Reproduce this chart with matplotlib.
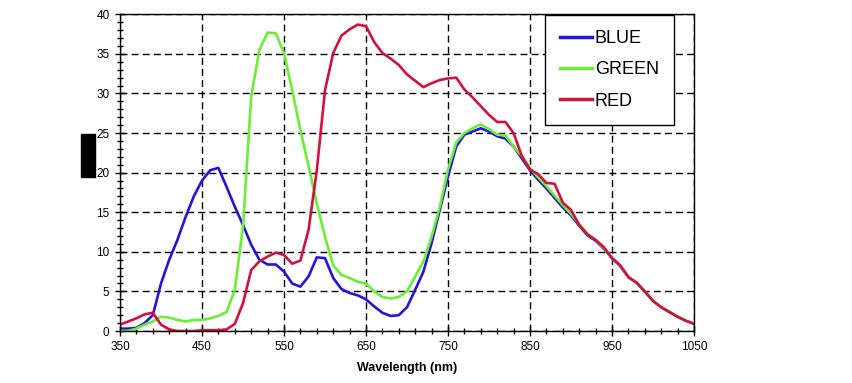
import matplotlib
matplotlib.use('Agg')
import matplotlib.pyplot as plt
from matplotlib.patches import Rectangle

plt.rcParams['font.family'] = ['Liberation Sans', 'DejaVu Sans']

wl = [350, 360, 370, 380, 390, 400, 410, 420, 430, 440,
      450, 460, 470, 480, 490, 500, 510, 520, 530, 540,
      550, 560, 570, 580, 590, 600, 610, 620, 630, 640,
      650, 660, 670, 680, 690, 700, 710, 720, 730, 740,
      750, 760, 770, 780, 790, 800, 810, 820, 830, 840,
      850, 860, 870, 880, 890, 900, 910, 920, 930, 940,
      950, 960, 970, 980, 990, 1000, 1010, 1020, 1030, 1040, 1050]

blue = [0.3, 0.3, 0.4, 1.0, 2.0, 6.0, 9.0, 11.5, 14.4, 17.0,
        19.0, 20.3, 20.6, 18.2, 15.7, 13.4, 10.9, 9.0, 8.4, 8.4,
        7.5, 6.0, 5.6, 6.9, 9.3, 9.2, 6.7, 5.3, 4.8, 4.5,
        4.0, 3.1, 2.3, 1.9, 2.0, 3.0, 5.2, 7.5, 11.1, 15.3,
        19.5, 23.3, 24.8, 25.2, 25.6, 25.2, 24.6, 24.3, 23.3, 21.8,
        20.3, 19.1, 18.0, 16.8, 15.6, 14.6, 13.3, 12.1, 11.4, 10.4,
        9.2, 8.2, 6.8, 6.1, 5.0, 3.8, 3.0, 2.4, 1.8, 1.3, 0.9]

green = [0.0, 0.0, 0.3, 0.8, 1.2, 1.8, 1.7, 1.4, 1.2, 1.4,
         1.4, 1.6, 1.9, 2.4, 5.2, 13.2, 29.6, 35.5, 37.7, 37.6,
         35.1, 30.4, 25.4, 20.8, 16.1, 11.9, 8.3, 7.1, 6.7, 6.2,
         6.0, 5.0, 4.3, 4.1, 4.3, 5.0, 6.9, 8.8, 11.9, 15.7,
         20.4, 23.8, 25.0, 25.6, 26.1, 25.5, 24.8, 24.7, 23.3, 22.1,
         20.6, 19.4, 18.3, 17.1, 15.9, 14.8, 13.5, 12.3, 11.5, 10.5,
         9.2, 8.3, 6.8, 6.1, 5.0, 3.8, 3.0, 2.4, 1.8, 1.3, 0.9]

red = [0.8, 1.2, 1.6, 2.1, 2.3, 0.8, 0.2, 0.0, 0.0, 0.0,
       0.1, 0.1, 0.1, 0.2, 0.9, 3.5, 7.7, 8.8, 9.4, 9.9,
       9.6, 8.5, 8.9, 12.8, 20.3, 30.4, 35.1, 37.3, 38.1, 38.7,
       38.5, 36.5, 35.1, 34.4, 33.6, 32.4, 31.6, 30.8, 31.3, 31.7,
       31.9, 32.0, 30.5, 29.5, 28.4, 27.3, 26.4, 26.4, 25.0, 22.1,
       20.4, 19.8, 18.7, 18.6, 16.2, 15.3, 13.4, 12.2, 11.5, 10.6,
       9.2, 8.3, 6.8, 6.1, 5.0, 3.8, 3.0, 2.4, 1.8, 1.3, 0.9]

xticks = [350, 450, 550, 650, 750, 850, 950, 1050]
yticks = [0, 5, 10, 15, 20, 25, 30, 35, 40]

fig = plt.figure(figsize=(8.52, 3.83), dpi=100)
ax = fig.add_axes([120/852, 1-331/383, 574/852, 316.7/383])

ax.plot(wl, blue, color='#2414dc', lw=1.9, label='BLUE')
ax.plot(wl, green, color='#6aee36', lw=1.9, label='GREEN')
ax.plot(wl, red, color='#d2123a', lw=1.9, label='RED')

ax.set_xlim(350, 1050)
ax.set_ylim(0, 40)
ax.set_xticks(xticks)
ax.set_xticks(range(350, 1051, 20), minor=True)
ax.set_yticks(yticks)
ax.set_yticks(range(0, 41), minor=True)
ax.tick_params(which='major', direction='inout', length=7, width=1, labelsize=8.5, pad=4)
ax.tick_params(which='minor', direction='inout', length=5, width=1)
ax.grid(True, which='major', color='black', linestyle=(0, (5, 3)), linewidth=1)
for s in ax.spines.values():
    s.set_linewidth(1)

ax.set_xlabel('Wavelength (nm)', fontsize=9, fontweight='bold', labelpad=6)

leg = ax.legend(loc='upper left', bbox_to_anchor=(545/852, 1-15/383),
                bbox_transform=fig.transFigure, borderaxespad=0,
                fancybox=False, edgecolor='black', framealpha=1,
                fontsize=13, handlelength=1.75, handletextpad=0.15,
                labelspacing=0.78, borderpad=0.85)
leg.get_frame().set_linewidth(1)
for line in leg.get_lines():
    line.set_linewidth(2.5)

fig.patches.append(Rectangle((81/852, 1-177/383), 14/852, 43/383,
                             transform=fig.transFigure, color='black'))

fig.savefig('out.png', dpi=100)
